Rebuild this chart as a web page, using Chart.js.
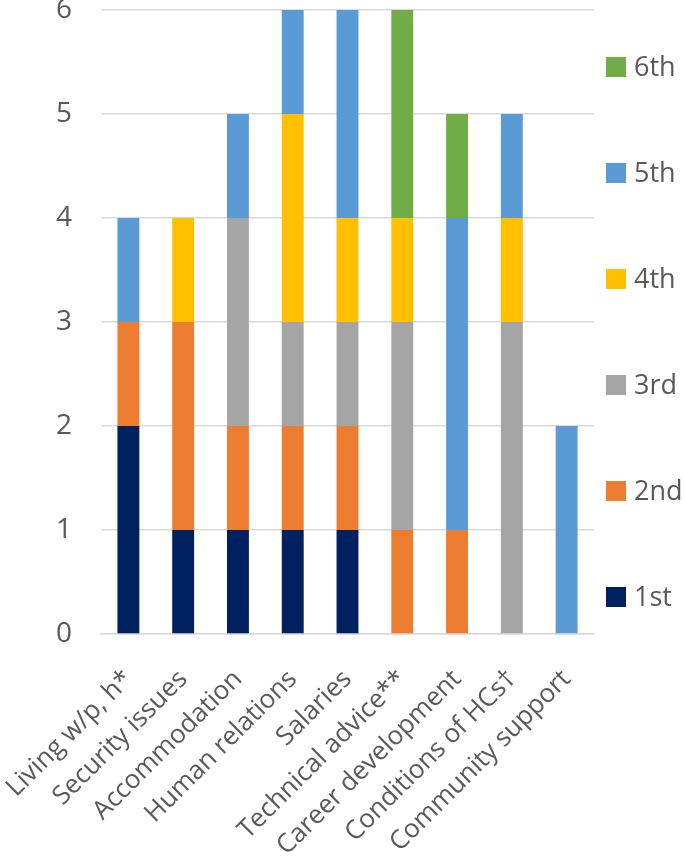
<!DOCTYPE html>
<html><head><meta charset="utf-8">
<script src="https://cdn.jsdelivr.net/npm/chart.js@4"></script>
<style>html,body{margin:0;padding:0;background:#fff}#w{width:685px;height:859px}</style>
</head><body><div id="w"><canvas id="c"></canvas></div>
<script>
const categories = ["Living w/p, h*","Security issues","Accommodation","Human relations","Salaries","Technical advice**","Career development","Conditions of HCs\u2020","Community support"];
const rankNames = ["1st","2nd","3rd","4th","5th","6th"];
const first  = [2,1,1,1,1,0,0,0,0];
const second = [1,2,1,1,1,1,1,0,0];
const third  = [0,0,2,1,1,2,0,3,0];
const fourth = [0,1,0,2,1,1,0,1,0];
const fifth  = [1,0,1,1,2,0,3,1,2];
const sixth  = [0,0,0,0,0,2,1,0,0];
const yTicks = [0,1,2,3,4,5,6];
const colors = ["#002060","#ED7D31","#A5A5A5","#FFC000","#5B9BD5","#70AD47"];
const series = [first,second,third,fourth,fifth,sixth];
const FONT = "'Open Sans', 'Noto Sans', sans-serif";
const TXT = "#595959";

const legendPlugin = {
  id:'sideLegend',
  afterDraw(chart){
    const ctx = chart.ctx;
    const ys = [597,491,385,279,173,67];
    ctx.save();
    ctx.font = "27px " + FONT;
    ctx.textBaseline = "middle";
    for(let i=0;i<6;i++){
      ctx.fillStyle = colors[i];
      ctx.fillRect(606, ys[i]-10, 20, 20);
      ctx.fillStyle = TXT;
      ctx.fillText(rankNames[i], 634, ys[i]+1);
    }
    ctx.restore();
  }
};

new Chart(document.getElementById('c'), {
  type:'bar',
  data:{
    labels:categories,
    datasets: series.map((d,i)=>({label:rankNames[i],data:d,backgroundColor:colors[i],borderWidth:0,barPercentage:0.4,categoryPercentage:1.0}))
  },
  options:{
    responsive:true, maintainAspectRatio:false, animation:false,
    layout:{padding:{left:0,right:91,top:10,bottom:0}},
    plugins:{legend:{display:false},tooltip:{enabled:false}},
    scales:{
      x:{stacked:true,
        grid:{display:false},
        border:{display:true,color:"#D9D9D9",width:1.5},
        ticks:{color:TXT,font:{family:FONT,size:26},minRotation:45,maxRotation:45,autoSkip:false,padding:22,labelOffset:0},
        afterFit(s){s.height=225; s.paddingLeft=0; s.paddingRight=0;}
      },
      y:{stacked:true,min:0,max:6,
        grid:{color:"#D9D9D9",lineWidth:1.5,drawTicks:false},
        border:{display:false},
        ticks:{color:TXT,font:{family:FONT,size:28},stepSize:1,padding:29,
          callback:(v)=> yTicks.includes(v)? String(v):''},
        afterFit(s){s.width=101; s.paddingTop=0; s.paddingBottom=0;}
      }
    }
  },
  plugins:[legendPlugin]
});
</script></body></html>
